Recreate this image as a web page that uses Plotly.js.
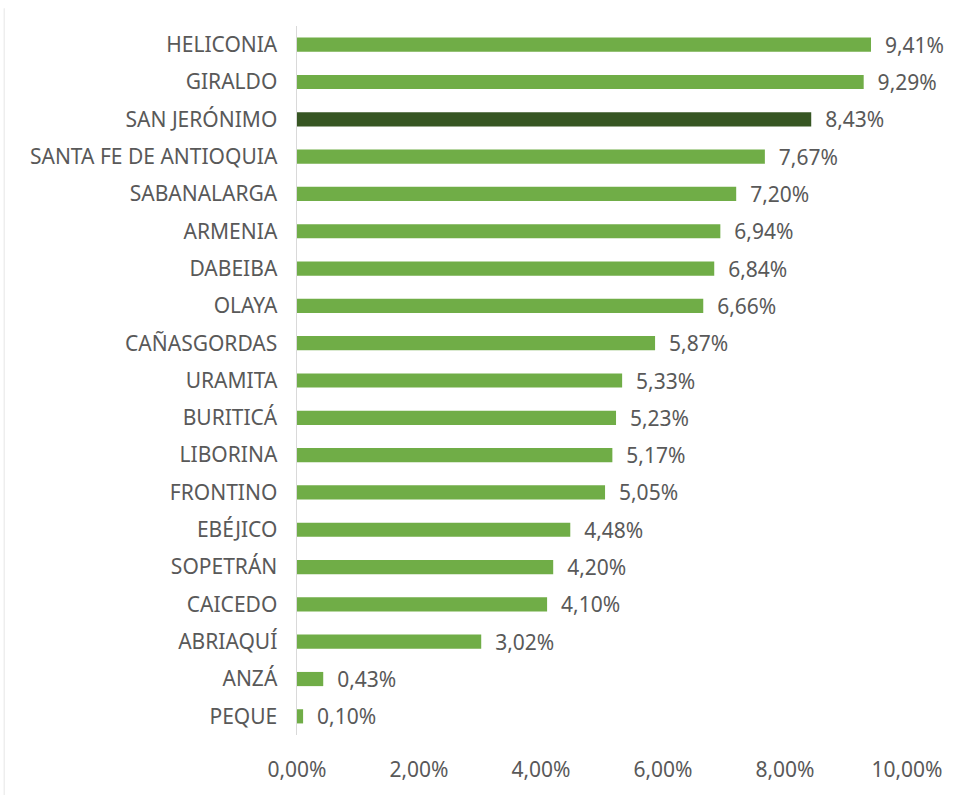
<!DOCTYPE html>
<html>
<head>
<meta charset="utf-8">
<script src="https://cdn.plot.ly/plotly-3.0.1.min.js"></script>
<style>html,body{margin:0;padding:0;background:#fff;}#chart{width:961px;height:795px;}</style>
</head>
<body>
<div id="chart"></div>
<script>
const municipios = ["HELICONIA","GIRALDO","SAN JERÓNIMO","SANTA FE DE ANTIOQUIA","SABANALARGA","ARMENIA","DABEIBA","OLAYA","CAÑASGORDAS","URAMITA","BURITICÁ","LIBORINA","FRONTINO","EBÉJICO","SOPETRÁN","CAICEDO","ABRIAQUÍ","ANZÁ","PEQUE"];
const porcentajes = [0.0941,0.0929,0.0843,0.0767,0.0720,0.0694,0.0684,0.0666,0.0587,0.0533,0.0523,0.0517,0.0505,0.0448,0.0420,0.0410,0.0302,0.0043,0.0010];
const resaltado = "SAN JERÓNIMO";
const xTicks = [0,0.02,0.04,0.06,0.08,0.10];

const colores = municipios.map(m => m === resaltado ? "#375623" : "#70AD47");
const fontFam = "Noto Sans, Liberation Sans, sans-serif";
const fs = 21;

const trace = {
  type: "bar",
  orientation: "h",
  y: municipios,
  x: porcentajes,
  marker: {color: colores},
  texttemplate: "\u00a0\u00a0%{x:.2%}",
  textposition: "outside",
  constraintext: "none",
  cliponaxis: false,
  textfont: {family: fontFam, size: fs, color: "#595959"},
  hoverinfo: "none"
};

const layout = {
  width: 961, height: 795,
  margin: {l: 297, r: 54, t: 26, b: 60},
  paper_bgcolor: "#fff", plot_bgcolor: "#fff",
  separators: ",.",
  showlegend: false,
  bargap: 0.62,
  font: {family: fontFam, size: fs, color: "#595959"},
  xaxis: {
    range: [0, 0.10],
    tickvals: xTicks,
    tickformat: ".2%",
    showgrid: false, zeroline: false, showline: false,
    ticks: "", ticklabelstandoff: 20,
    tickfont: {family: fontFam, size: fs, color: "#595959"}
  },
  yaxis: {
    type: "category",
    autorange: "reversed",
    showgrid: false, zeroline: false,
    showline: true, linecolor: "#D9D9D9", linewidth: 1.5,
    ticks: "", ticklabelstandoff: 14,
    tickfont: {family: fontFam, size: fs, color: "#595959"}
  },
  shapes: [{type: "line", xref: "paper", yref: "paper", x0: -0.48, x1: -0.48, y0: -0.09, y1: 1.025, line: {color: "#E6E6E6", width: 1}}]
};

Plotly.newPlot("chart", [trace], layout, {displayModeBar: false, staticPlot: true});
</script>
</body>
</html>
